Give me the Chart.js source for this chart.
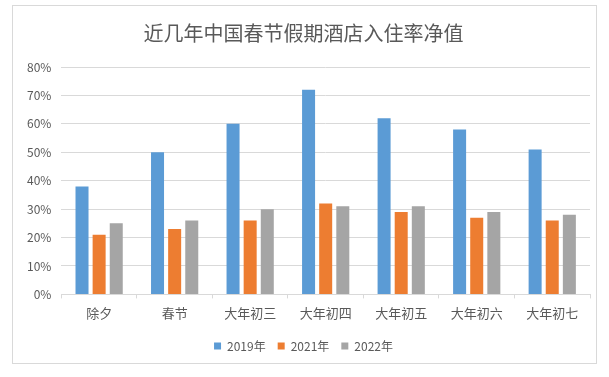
<!DOCTYPE html>
<html>
<head>
<meta charset="utf-8">
<script src="https://cdn.jsdelivr.net/npm/chart.js@4.4.0/dist/chart.umd.min.js"></script>
<style>
  html, body { margin: 0; padding: 0; background: #fff; }
  #wrap {
    position: absolute; left: 12px; top: 5px; width: 585px; height: 359px;
    border: 1px solid #d9d9d9; box-sizing: border-box;
  }
</style>
</head>
<body>
<div id="wrap"><canvas id="hotelChart"></canvas></div>
<script>
// Chart data arrays
const days = ['除夕', '春节', '大年初三', '大年初四', '大年初五', '大年初六', '大年初七'];
const rate2019 = [38, 50, 60, 72, 62, 58, 51];
const rate2021 = [21, 23, 26, 32, 29, 27, 26];
const rate2022 = [25, 26, 30, 31, 31, 29, 28];
const yTicks = [0, 10, 20, 30, 40, 50, 60, 70, 80];

const cjk = '"Noto Sans CJK SC", "Noto Sans", sans-serif';

const ctx = document.getElementById('hotelChart').getContext('2d');
const hotelChart = new Chart(ctx, {
    type: 'bar',
    data: {
        labels: days,
        datasets: [
            { label: '2019年', data: rate2019, backgroundColor: '#5b9bd5' },
            { label: '2021年', data: rate2021, backgroundColor: '#ed7d31' },
            { label: '2022年', data: rate2022, backgroundColor: '#a5a5a5' }
        ]
    },
    options: {
        responsive: true,
        maintainAspectRatio: false,
        animation: false,
        categoryPercentage: 0.68,
        barPercentage: 0.76,
        layout: { padding: { left: 4, right: 6, top: 0, bottom: 1 } },
        plugins: {
            title: {
                display: true,
                text: '近几年中国春节假期酒店入住率净值',
                color: '#595959',
                font: { family: cjk, size: 20, weight: 'normal' },
                padding: { top: 15, bottom: 22 }
            },
            legend: {
                position: 'bottom',
                labels: {
                    color: '#595959',
                    font: { family: cjk, size: 12 },
                    boxWidth: 7,
                    boxHeight: 7,
                    padding: 12
                }
            },
            tooltip: { enabled: false }
        },
        scales: {
            x: {
                grid: { display: true, drawOnChartArea: false, drawTicks: true, tickLength: 4, color: '#d9d9d9' },
                border: { color: '#d9d9d9' },
                ticks: { color: '#595959', padding: 7, font: { family: cjk, size: 13 } }
            },
            y: {
                min: 0,
                max: 80,
                afterBuildTicks: axis => { axis.ticks = yTicks.map(v => ({ value: v })); },
                grid: { color: '#d9d9d9', drawTicks: false },
                border: { display: false },
                ticks: {
                    color: '#595959',
                    padding: 10,
                    font: { family: cjk, size: 12 },
                    callback: v => v + '%'
                }
            }
        }
    }
});
</script>
</body>
</html>
